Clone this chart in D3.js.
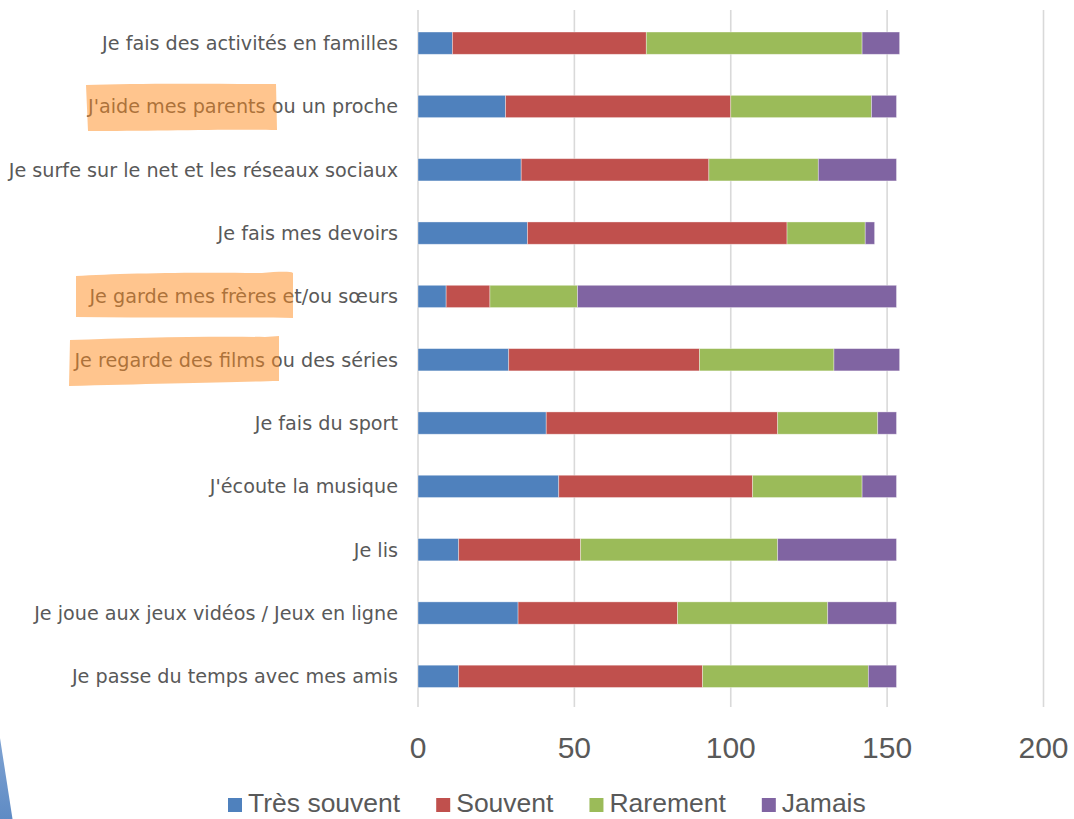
<!DOCTYPE html>
<html>
<head>
<meta charset="utf-8">
<script src="https://cdn.jsdelivr.net/npm/d3@7/dist/d3.min.js"></script>
<style>
  html, body { margin: 0; padding: 0; background: #fff; }
  svg { display: block; }
</style>
</head>
<body>
<svg id="chart" width="1074" height="819"></svg>
<script>
// Activities, listed top to bottom
const categories = [
  "Je fais des activités en familles",
  "J'aide mes parents ou un proche",
  "Je surfe sur le net et les réseaux sociaux",
  "Je fais mes devoirs",
  "Je garde mes frères et/ou sœurs",
  "Je regarde des films ou des séries",
  "Je fais du sport",
  "J'écoute la musique",
  "Je lis",
  "Je joue aux jeux vidéos / Jeux en ligne",
  "Je passe du temps avec mes amis"
];

// Number of answers per frequency
const tresSouvent = [11, 28, 33, 35, 9, 29, 41, 45, 13, 32, 13];
const souvent     = [62, 72, 60, 83, 14, 61, 74, 62, 39, 51, 78];
const rarement    = [69, 45, 35, 25, 28, 43, 32, 35, 63, 48, 53];
const jamais      = [12, 8, 25, 3, 102, 21, 6, 11, 38, 22, 9];

const seriesNames = ["Très souvent", "Souvent", "Rarement", "Jamais"];
const seriesColors = ["#4F81BD", "#C0504D", "#9BBB59", "#8064A2"];
const xTicks = [0, 50, 100, 150, 200];

const rows = categories.map((c, i) => ({
  cat: c,
  "Très souvent": tresSouvent[i],
  "Souvent": souvent[i],
  "Rarement": rarement[i],
  "Jamais": jamais[i]
}));

const svg = d3.select("#chart");
const textColor = "#595959";

const x = d3.scaleLinear().domain([0, 200]).range([418, 1043.5]);
const y = d3.scaleBand().domain(categories).range([11.5, 708])
  .paddingInner(0.648).paddingOuter(0.324);

// decorative wedge in the lower-left corner
const grad = svg.append("defs").append("linearGradient")
  .attr("id", "wedge").attr("x1", 0).attr("y1", 0).attr("x2", 0).attr("y2", 1);
grad.append("stop").attr("offset", "0%").attr("stop-color", "#7fa3d3");
grad.append("stop").attr("offset", "100%").attr("stop-color", "#5f8bc4");
svg.append("path").attr("d", "M0,738 L12.5,819 L0,819 Z").attr("fill", "url(#wedge)");

// vertical gridlines
svg.append("g").selectAll("line").data(xTicks).join("line")
  .attr("x1", d => x(d)).attr("x2", d => x(d))
  .attr("y1", 10).attr("y2", 707)
  .attr("stroke", "#d9d9d9").attr("stroke-width", 1.6);

// stacked bars
const stack = d3.stack().keys(seriesNames)(rows);
svg.append("g").selectAll("g").data(stack).join("g")
  .attr("fill", (d, i) => seriesColors[i])
  .selectAll("rect").data(d => d).join("rect")
  .attr("x", d => x(d[0]))
  .attr("width", d => x(d[1]) - x(d[0]))
  .attr("y", d => y(d.data.cat))
  .attr("height", y.bandwidth())
  .attr("stroke", "rgba(255,255,255,0.45)")
  .attr("stroke-width", 0.8);

// category labels
svg.append("g").selectAll("text").data(categories).join("text")
  .attr("x", 398)
  .attr("y", d => y(d) + y.bandwidth() / 2)
  .attr("dy", "0.36em")
  .attr("text-anchor", "end")
  .attr("font-family", "'DejaVu Sans', sans-serif")
  .attr("font-size", 19.2)
  .attr("fill", textColor)
  .text(d => d);

// x tick labels
svg.append("g").selectAll("text").data(xTicks).join("text")
  .attr("x", d => x(d))
  .attr("y", 758)
  .attr("text-anchor", "middle")
  .attr("font-family", "'Liberation Sans', sans-serif")
  .attr("font-size", 30)
  .attr("fill", textColor)
  .text(d => d);

// legend
const legend = svg.append("g").attr("transform", "translate(228,0)");
let lx = 0;
seriesNames.forEach((name, i) => {
  const g = legend.append("g").attr("transform", `translate(${lx},0)`);
  g.append("rect").attr("x", 0).attr("y", 798).attr("width", 14).attr("height", 14)
    .attr("fill", seriesColors[i]);
  const t = g.append("text").attr("x", 20).attr("y", 812)
    .attr("font-family", "'Liberation Sans', sans-serif")
    .attr("font-size", 26.5)
    .attr("fill", textColor)
    .text(name);
  lx += 20 + t.node().getComputedTextLength() + 36;
});

// highlighter strokes over some labels
const marks = [
  "M86,85 C140,83 220,84 276,84 L277,130 C230,129 150,131 88,131 Z",
  "M76,276 C120,273 200,272 262,273 C275,272 290,271 293,273 L293,318 C230,317 150,318 76,317 Z",
  "M70,340 C130,338 200,336 265,337 L279,336 L279,381 C230,382 150,384 69,386 Z"
];
svg.append("g").selectAll("path").data(marks).join("path")
  .attr("d", d => d)
  .attr("fill", "rgb(255,140,30)")
  .attr("fill-opacity", 0.5);
</script>
</body>
</html>
